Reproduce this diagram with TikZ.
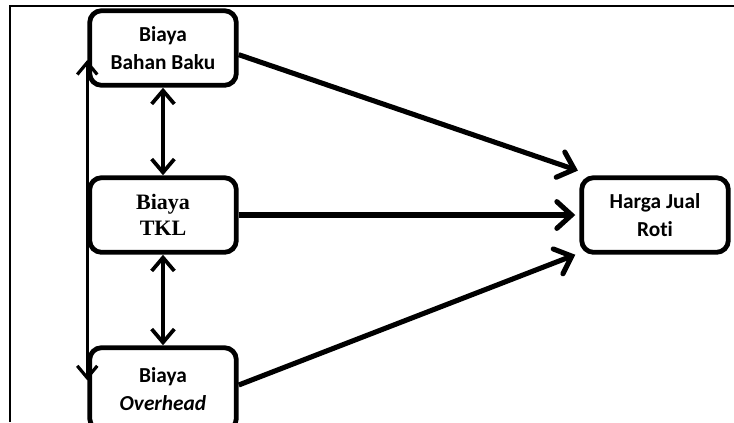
\documentclass[tikz,border=0pt]{standalone}
\usepackage{fontspec}
\setmainfont{Carlito}[Ligatures=NoCommon]
\newfontfamily\timesfont{Liberation Serif}
\usetikzlibrary{arrows.meta}

\begin{document}
\begin{tikzpicture}[x=0.75pt,y=-0.75pt,draw=black!100]
 	\def \colleft{163}
 	\def \colright{655}
 	\tikzstyle{b-node}=[rectangle,rounded corners=9pt,draw=black!100,line width=3.6pt,minimum width=110pt,minimum height=56pt,inner sep=0pt,align=center,font=\bfseries\fontsize{16}{21}\selectfont]
 	\tikzstyle{main-arrow}=[line width=3.8pt,-{Straight Barb[length=11pt,width=20pt,line cap=round]}]
 	\tikzstyle{both-arrow}=[line width=2.8pt,{Straight Barb[length=10pt,width=17pt]}-{Straight Barb[length=10pt,width=17pt]}]
 	\tikzstyle{side-arrow}=[line width=2.4pt,{Straight Barb[length=9pt,width=15pt]}-{Straight Barb[length=9pt,width=15pt]}]
 	\useasboundingbox (0,0) rectangle (734,422);
 	% frame
 	\draw[line width=1.2pt] (10,422) -- (10,6) -- (734,6);

 	% cost nodes
 	\node[b-node] 	(bb)	at (\colleft,48)		{Biaya\\Bahan Baku};
 	\node[b-node,font=\timesfont\bfseries\fontsize{16.5}{20}\selectfont] 	(tkl)	at (\colleft,215)	{Biaya\\TKL};
 	\node[b-node,minimum height=62pt] 	(oh)	at (\colleft,389)		{Biaya\\\textit{Overhead}};

 	% price node
 	\node[b-node] 	(hj)	at (\colright,215)		{Harga Jual\\Roti};

 	\draw[side-arrow] ([yshift=-9pt]bb.west) -- ([yshift=6.5pt]oh.west);
 	\draw[both-arrow] (bb.south) -- (tkl.north);
 	\draw[both-arrow] (tkl.south) -- (oh.north);
 	\draw[main-arrow] ([yshift=-5pt]bb.east) -- ([xshift=-1pt,yshift=3.5pt]hj.north west);
 	\draw[main-arrow] (tkl.east) -- ([xshift=-3pt]hj.west);
 	\draw[main-arrow] ([yshift=3pt]oh.east) -- ([xshift=-3pt]hj.south west);
\end{tikzpicture}
\end{document}
